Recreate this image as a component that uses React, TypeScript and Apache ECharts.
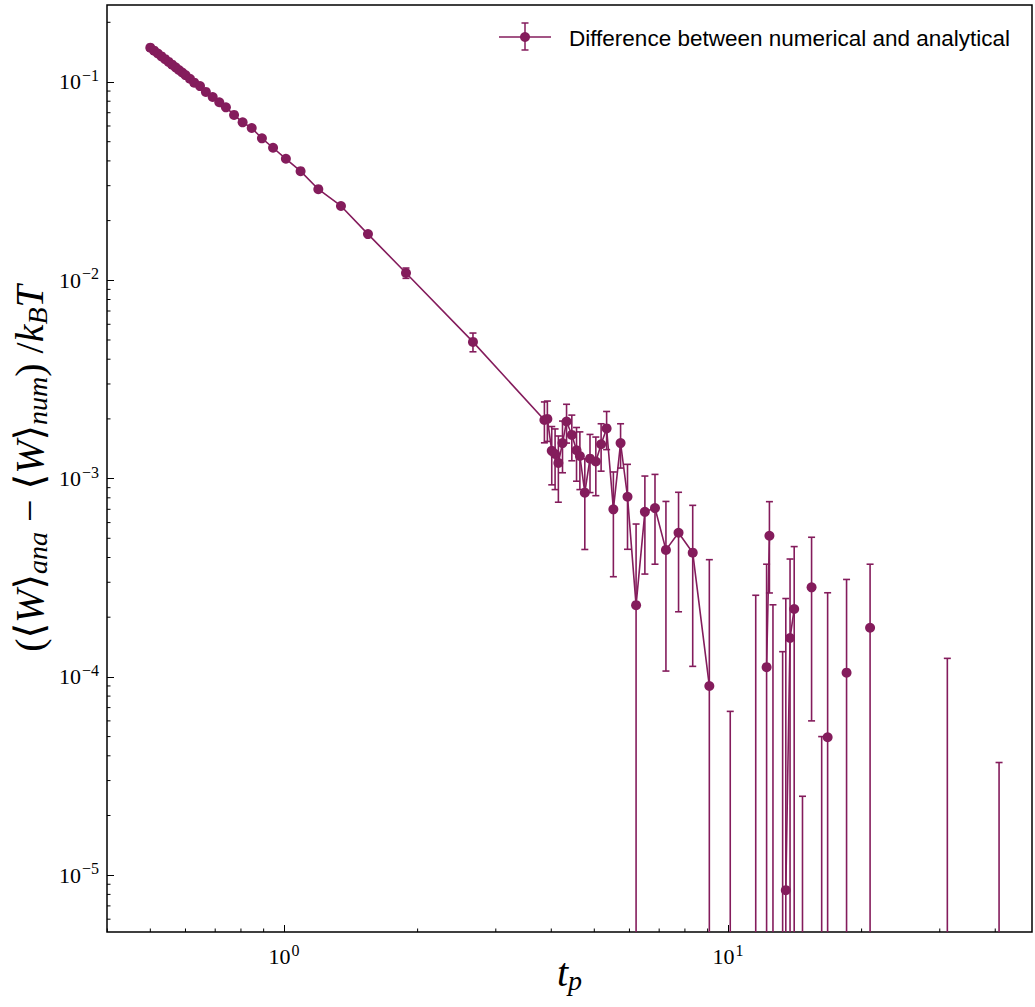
import React, { useEffect, useRef } from "react";
import * as echarts from "echarts";

// ---------- data ----------
const tp = [
  0.5, 0.51, 0.52, 0.53, 0.54, 0.55, 0.56, 0.57, 0.58, 0.59, 0.6,
  0.614, 0.628, 0.647, 0.667, 0.691, 0.715, 0.74, 0.772, 0.807, 0.846, 0.892, 0.945, 1.01, 1.09, 1.195, 1.344, 1.546, 1.883, 2.665,
  3.86, 3.92, 4.01, 4.08, 4.15, 4.24, 4.33, 4.45, 4.56, 4.64, 4.76, 4.89, 5.04, 5.18, 5.33, 5.52, 5.73, 5.94, 6.21, 6.5, 6.85, 7.25, 7.74, 8.33, 9.08,
  10.12, 11.55, 12.22, 12.4, 12.63, 13.28, 13.5, 13.8, 14.1, 14.72, 15.43, 16.26, 16.77, 17.6, 18.5, 19.7, 20.9, 31.2, 40.8,
];

const wDiff = [
  0.149, 0.1439, 0.1392, 0.1346, 0.1303, 0.1262, 0.1223, 0.1186, 0.115, 0.1116, 0.1084,
  0.1038, 0.0992, 0.0954, 0.0891, 0.084, 0.079, 0.0745, 0.0682, 0.0626, 0.0586, 0.052, 0.0466, 0.041, 0.0355, 0.0288, 0.0237, 0.0171, 0.01088, 0.00489,
  1.975e-3, 2.0e-3, 1.38e-3, 1.33e-3, 1.2e-3, 1.51e-3, 1.94e-3, 1.66e-3, 1.39e-3, 1.3e-3, 8.49e-4, 1.26e-3, 1.22e-3, 1.49e-3, 1.79e-3, 7.0e-4, 1.51e-3, 8.1e-4, 2.3e-4, 6.8e-4, 7.1e-4, 4.37e-4, 5.33e-4, 4.23e-4, 9.0e-5,
  -2.13e-4, -7e-6, 1.12e-4, 5.15e-4, -1.9e-5, -1.11e-4, 8.4e-6, 1.57e-4, 2.2e-4, -2.05e-4, 2.83e-4, -1.7e-4, 4.96e-5, -3.0e-4, 1.05e-4, -2.5e-4, 1.77e-4, -3.6e-5, -1.03e-4,
];

const wErr = [
  0.00018, 0.00019, 0.0002, 0.0002, 0.00021, 0.00021, 0.00022, 0.00022, 0.00023, 0.00023, 0.00024,
  0.00024, 0.00025, 0.00025, 0.00026, 0.00027, 0.00027, 0.00028, 0.00029, 0.0003, 0.0003, 0.00031, 0.00032, 0.00033, 0.00035, 0.00037, 0.0004, 0.0004, 0.00065, 0.00053,
  0.00046, 0.00046, 0.00045, 0.00045, 0.00044, 0.00044, 0.00043, 0.00043, 0.00042, 0.00042, 0.00041, 0.00041, 0.0004, 0.0004, 0.00039, 0.00038, 0.00038, 0.00037, 0.00036, 0.00035, 0.00034, 0.00033, 0.00032, 0.00031, 0.0003,
  0.00028, 0.000265, 0.000258, 0.00025, 0.00025, 0.000245, 0.00024, 0.000236, 0.000234, 0.00023, 0.000223, 0.00022, 0.000216, 0.00021, 0.000205, 0.0002, 0.000193, 0.00016, 0.00014,
];

const xTickExponents = [0, 1];
const yTickExponents = [-5, -4, -3, -2, -1];
const minorMultipliers = [2, 3, 4, 5, 6, 7, 8, 9];
const xMinorDecades = [-1, 0, 1];
const yMinorDecades = [-6, -5, -4, -3, -2, -1];
const LEGEND_LABEL = "Difference between numerical and analytical";

// ---------- style ----------
const COLOR = "#841c5c";
const MATH_FONT = "'Liberation Serif', 'DejaVu Serif', serif";
const SANS_FONT = "'Liberation Sans', 'DejaVu Sans', sans-serif";
const X_MIN = 0.3994;
const X_MAX = 48.4;
const Y_MIN = 5.17e-6;
const Y_MAX = 0.2445;

function expLabel(v: number, allowed: number[]) {
  const e = Math.round(Math.log10(v));
  if (Math.abs(Math.log10(v) - e) > 1e-6 || !allowed.includes(e)) return "";
  const sup = (e < 0 ? "\u2212" : "") + Math.abs(e);
  return `{b|10}{s|${sup}}`;
}

const tickRich = {
  b: { fontFamily: MATH_FONT, fontSize: 22, color: "#000" },
  s: { fontFamily: MATH_FONT, fontSize: 16, color: "#000", padding: [0, 0, 13, 1] },
};

export default function App() {
  const ref = useRef<HTMLDivElement>(null);

  useEffect(() => {
    if (!ref.current) return;
    const chart = echarts.init(ref.current, undefined, { renderer: "svg" });

    const xMinor: number[] = [];
    xMinorDecades.forEach((d) =>
      minorMultipliers.forEach((m) => {
        const v = m * Math.pow(10, d);
        if (v > X_MIN && v < X_MAX) xMinor.push(v);
      })
    );
    const yMinor: number[] = [];
    yMinorDecades.forEach((d) =>
      minorMultipliers.forEach((m) => {
        const v = m * Math.pow(10, d);
        if (v > Y_MIN && v < Y_MAX) yMinor.push(v);
      })
    );

    const lineData = tp.map((t, i) => [t, wDiff[i] > 0 ? wDiff[i] : "-"]);
    const errData = tp.map((t, i) => [t, wDiff[i], wErr[i]]);

    const option: any = {
      animation: false,
      grid: {
        left: 107,
        top: 5,
        width: 925,
        height: 927,
        show: true,
        borderColor: "#000",
        borderWidth: 1.5,
        backgroundColor: "transparent",
        outerBoundsMode: "none",
        containLabel: false,
      },
      xAxis: {
        type: "log",
        logBase: 10,
        min: X_MIN,
        max: X_MAX,
        axisLine: { show: false },
        axisTick: { show: true, inside: true, length: 7, lineStyle: { color: "#000", width: 1 } },
        splitLine: { show: false },
        axisLabel: {
          showMinLabel: false,
          showMaxLabel: false,
          margin: 10,
          formatter: (v: number) => expLabel(v, xTickExponents),
          rich: tickRich,
        },
        name: "{i|t}{sb|p}",
        nameLocation: "middle",
        nameMoveOverlap: false,
        nameGap: 18,
        nameTextStyle: {
          rich: {
            i: { fontFamily: MATH_FONT, fontSize: 40, fontStyle: "italic", color: "#000" },
            sb: { fontFamily: MATH_FONT, fontSize: 28, fontStyle: "italic", color: "#000", padding: [16, 0, 0, 0] },
          },
        },
      },
      yAxis: {
        type: "log",
        logBase: 10,
        min: Y_MIN,
        max: Y_MAX,
        axisLine: { show: false },
        axisTick: { show: true, inside: true, length: 7, lineStyle: { color: "#000", width: 1 } },
        splitLine: { show: false },
        axisLabel: {
          showMinLabel: false,
          showMaxLabel: false,
          margin: 8,
          formatter: (v: number) => expLabel(v, yTickExponents),
          rich: tickRich,
        },
        name:
          "{n|(\u27E8}{i|W}{n|\u27E9}{sb|ana}{n| \u2212 \u27E8}{i|W}{n|\u27E9}{sb|num}{n|) /}{i|k}{sb|B}{i|T}",
        nameLocation: "middle",
        nameMoveOverlap: false,
        nameRotate: 90,
        nameGap: 56,
        nameTextStyle: {
          rich: {
            n: { fontFamily: MATH_FONT, fontSize: 40, color: "#000" },
            i: { fontFamily: MATH_FONT, fontSize: 40, fontStyle: "italic", color: "#000" },
            sb: { fontFamily: MATH_FONT, fontSize: 28, fontStyle: "italic", color: "#000", padding: [16, 0, 0, 0] },
          },
        },
      },
      graphic: [
        {
          type: "group",
          silent: true,
          children: [
            { type: "line", shape: { x1: 499, y1: 37, x2: 551, y2: 37 }, style: { stroke: COLOR, lineWidth: 1.5 } },
            { type: "line", shape: { x1: 525, y1: 23, x2: 525, y2: 50 }, style: { stroke: COLOR, lineWidth: 1.5 } },
            { type: "line", shape: { x1: 521.5, y1: 23, x2: 528.5, y2: 23 }, style: { stroke: COLOR, lineWidth: 1.5 } },
            { type: "line", shape: { x1: 521.5, y1: 50, x2: 528.5, y2: 50 }, style: { stroke: COLOR, lineWidth: 1.5 } },
            { type: "circle", shape: { cx: 525, cy: 37, r: 5 }, style: { fill: COLOR } },
            {
              type: "text",
              x: 569,
              y: 38,
              style: {
                text: LEGEND_LABEL,
                fontFamily: SANS_FONT,
                fontSize: 22.5,
                fill: "#000",
                verticalAlign: "middle",
                align: "left",
              },
            },
          ],
        },
      ],
      series: [
        {
          type: "custom",
          name: "errorbars",
          clip: true,
          silent: true,
          encode: { x: 0, y: 1 },
          data: errData,
          renderItem: (params: any, api: any) => {
            const t = api.value(0);
            const y = api.value(1);
            const e = api.value(2);
            const hi = y + e;
            const lo = y - e;
            if (!(hi > 0)) return null;
            const cs = params.coordSys;
            const bottom = cs.y + cs.height;
            const pHi = api.coord([t, hi]);
            const x = pHi[0];
            const yHi = pHi[1];
            const yLo = lo > 0 ? api.coord([t, lo])[1] : bottom + 3;
            const st = { stroke: COLOR, lineWidth: 1.6 };
            const children: any[] = [
              { type: "line", shape: { x1: x, y1: yHi, x2: x, y2: Math.min(yLo, bottom + 3) }, style: st },
              { type: "line", shape: { x1: x - 3.5, y1: yHi, x2: x + 3.5, y2: yHi }, style: st },
            ];
            if (lo > 0 && yLo < bottom) {
              children.push({ type: "line", shape: { x1: x - 3.5, y1: yLo, x2: x + 3.5, y2: yLo }, style: st });
            }
            return { type: "group", children };
          },
          z: 2,
        },
        {
          type: "line",
          name: "diff",
          data: lineData,
          connectNulls: false,
          symbol: "circle",
          symbolSize: 10,
          showSymbol: true,
          itemStyle: { color: COLOR },
          lineStyle: { color: COLOR, width: 1.6 },
          emphasis: { disabled: true },
          silent: true,
          z: 3,
        },
        {
          type: "custom",
          name: "xMinorTicks",
          silent: true,
          clip: false,
          encode: { x: 0 },
          data: xMinor.map((v) => [v, Y_MAX]),
          renderItem: (params: any, api: any) => {
            const cs = params.coordSys;
            const x = api.coord([api.value(0), Y_MAX])[0];
            const b = cs.y + cs.height;
            return { type: "line", shape: { x1: x, y1: b, x2: x, y2: b - 3.5 }, style: { stroke: "#000", lineWidth: 1 } };
          },
          z: 1,
        },
        {
          type: "custom",
          name: "yMinorTicks",
          silent: true,
          clip: false,
          encode: { x: 1, y: 0 },
          data: yMinor.map((v) => [v, X_MAX]),
          renderItem: (params: any, api: any) => {
            const cs = params.coordSys;
            const y = api.coord([X_MAX, api.value(0)])[1];
            const l = cs.x;
            return { type: "line", shape: { x1: l, y1: y, x2: l + 3.5, y2: y }, style: { stroke: "#000", lineWidth: 1 } };
          },
          z: 1,
        },
      ],
    };

    chart.setOption(option);
    return () => chart.dispose();
  }, []);

  return (
    <div
      ref={ref}
      style={{ position: "fixed", left: 0, top: 0, width: 1035, height: 1007, background: "#fff" }}
    />
  );
}
